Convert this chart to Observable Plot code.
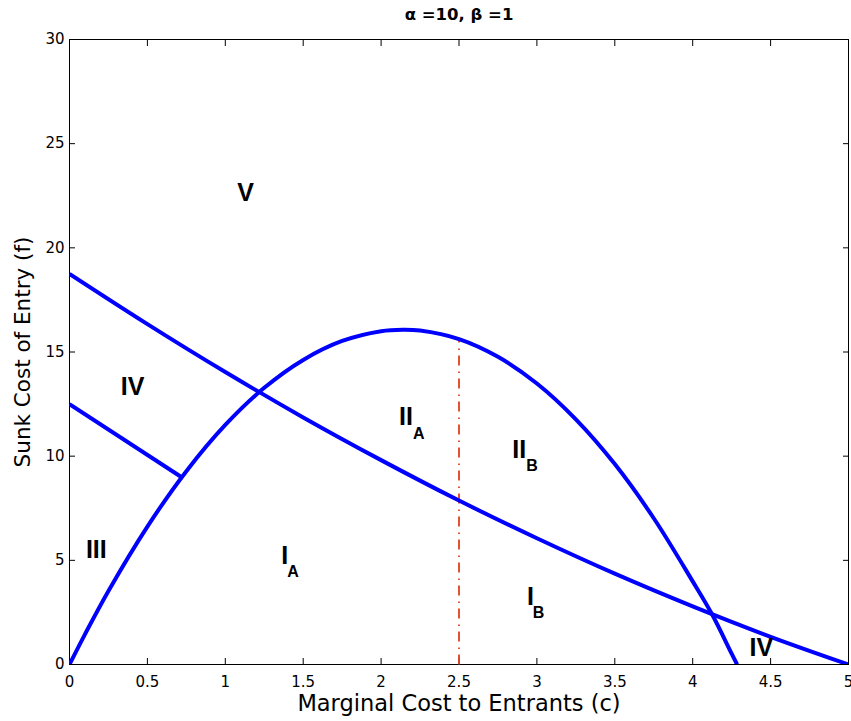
<!DOCTYPE html>
<html><head><meta charset="utf-8">
<script src="https://cdn.jsdelivr.net/npm/d3@7"></script>
<script src="https://cdn.jsdelivr.net/npm/@observablehq/plot@0.6"></script>
<style>body{margin:0;background:#fff}</style>
</head><body><div id="chart"></div>
<script>
// Values
const parabolaC = [0, 0.1, 0.25, 0.5, 0.75, 1, 1.25, 1.5, 1.75, 2, 2.14, 2.25, 2.5, 2.75, 3, 3.25, 3.5, 3.75, 4, 4.125, 4.25, 4.285];
const parabolaF = [0, 1.46, 3.53, 6.62, 9.28, 11.5, 13.28, 14.62, 15.53, 16.0, 16.07, 16.03, 15.62, 14.77, 13.49, 11.77, 9.62, 7.02, 3.99, 2.4, 0.52, 0];
const declineC = [0, 0.5, 1, 1.5, 2, 2.5, 3, 3.5, 4, 4.5, 5];
const declineF = [18.75, 16.34, 14.04, 11.86, 9.81, 7.87, 6.06, 4.36, 2.79, 1.33, 0];
const innerC = [0, 0.72];
const innerF = [12.5, 8.99];
const dividerC = [2.5, 2.5];
const dividerF = [0, 15.6];
const xTicks = [0, 0.5, 1, 1.5, 2, 2.5, 3, 3.5, 4, 4.5, 5];
const yTicks = [0, 5, 10, 15, 20, 25, 30];
const regionMain = ["V", "IV", "III", "I", "II", "II", "I", "IV"];
const regionSub = ["", "", "", "A", "A", "B", "B", ""];
const regionC = [1.13, 0.405, 0.172, 1.381, 2.16, 2.886, 2.958, 4.44];
const regionF = [22.61, 13.3, 5.5, 5.23, 11.86, 10.32, 3.26, 0.79];
const titleText = "α =10, β =1";
const xLabel = "Marginal Cost to Entrants (c)";
const yLabel = "Sunk Cost of Entry (f)";

const toPts = (cs, fs) => cs.map((c, i) => ({c, f: fs[i]}));
const regions = regionMain.map((m, i) => ({m, s: regionSub[i], c: regionC[i], f: regionF[i]}));
const subsAfterOne = regions.filter(d => d.s && d.m.length === 1);
const subsAfterTwo = regions.filter(d => d.s && d.m.length === 2);

const sans = "'DejaVu Sans', Verdana, sans-serif";
const labelFont = "'Liberation Sans', Arial, Helvetica, sans-serif";

const chart = Plot.plot({
  width: 851,
  height: 721,
  marginTop: 39,
  marginRight: 3,
  marginBottom: 57,
  marginLeft: 69,
  style: {fontFamily: sans, fontSize: "15px", color: "black", background: "white"},
  x: {domain: [0, 5]},
  y: {domain: [0, 30]},
  marks: [
    Plot.frame({stroke: "black", strokeWidth: 1}),
    Plot.axisX({ticks: xTicks, tickSize: -6, tickPadding: 18, tickFormat: d => String(d), label: null, fontSize: 15}),
    Plot.axisX({anchor: "top", ticks: xTicks, tickSize: -6, tickFormat: () => "", label: null}),
    Plot.axisY({ticks: yTicks, tickSize: -6, tickPadding: 11, tickFormat: d => String(d), label: null, fontSize: 15}),
    Plot.axisY({anchor: "right", ticks: yTicks, tickSize: -6, tickFormat: () => "", label: null}),
    Plot.line(toPts(dividerC, dividerF), {x: "c", y: "f", stroke: "#e0401c", strokeWidth: 1.8, strokeDasharray: "10,5.5,1.5,6", strokeLinecap: "butt"}),
    Plot.line(toPts(parabolaC, parabolaF), {x: "c", y: "f", stroke: "#0000ff", strokeWidth: 4, curve: "catmull-rom", clip: true, strokeLinecap: "butt"}),
    Plot.line(toPts(declineC, declineF), {x: "c", y: "f", stroke: "#0000ff", strokeWidth: 4, curve: "catmull-rom", clip: true, strokeLinecap: "butt"}),
    Plot.line(toPts(innerC, innerF), {x: "c", y: "f", stroke: "#0000ff", strokeWidth: 4, clip: true, strokeLinecap: "butt"}),
    Plot.text(regions, {x: "c", y: "f", text: "m", fontFamily: labelFont, fontSize: 25, fontWeight: "bold", fill: "black"}),
    Plot.text(subsAfterOne, {x: "c", y: "f", text: "s", fontFamily: labelFont, fontSize: 16, fontWeight: "bold", fill: "black", textAnchor: "start", dx: 2.5, dy: 16}),
    Plot.text(subsAfterTwo, {x: "c", y: "f", text: "s", fontFamily: labelFont, fontSize: 16, fontWeight: "bold", fill: "black", textAnchor: "start", dx: 7, dy: 16}),
    Plot.text([titleText], {frameAnchor: "top", lineAnchor: "middle", textAnchor: "middle", dy: -25, fontFamily: sans, fontSize: 16.5, fontWeight: "bold", fill: "black"}),
    Plot.text([xLabel], {frameAnchor: "bottom", lineAnchor: "middle", textAnchor: "middle", dy: 39, fontFamily: sans, fontSize: 22.5, fill: "black"}),
    Plot.text([yLabel], {frameAnchor: "left", lineAnchor: "middle", textAnchor: "middle", dx: -46, rotate: -90, fontFamily: sans, fontSize: 21.5, fill: "black"})
  ]
});
document.getElementById("chart").appendChild(chart);
</script>
</body></html>
